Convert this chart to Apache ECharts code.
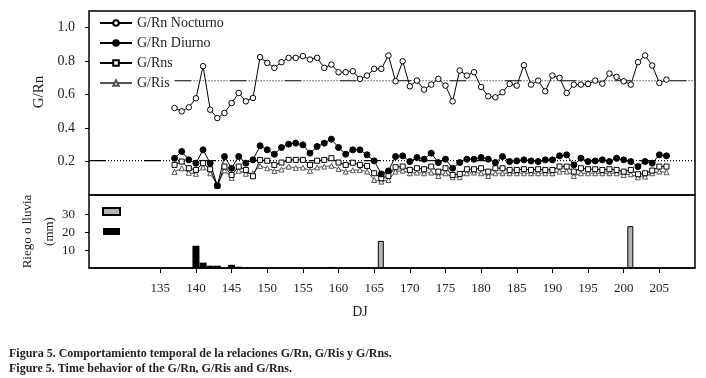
<!DOCTYPE html>
<html>
<head>
<meta charset="utf-8">
<script src="https://cdn.jsdelivr.net/npm/echarts@6/dist/echarts.min.js"></script>
<style>
  html, body { margin: 0; padding: 0; background: #fff; }
  #main { width: 706px; height: 378px; }
</style>
</head>
<body>
<div id="main"></div>
<script>
// dias julianos, primer dia con datos
var firstDay = 137;
var tickDays = [135, 140, 145, 150, 155, 160, 165, 170, 175, 180, 185, 190, 195, 200, 205];

var nocturno = [0.52, 0.50, 0.524, 0.578, 0.77, 0.51, 0.46, 0.49, 0.55, 0.61, 0.56, 0.58,
    0.824, 0.79, 0.76, 0.794, 0.82, 0.82, 0.83, 0.81, 0.82, 0.76, 0.78, 0.734, 0.734, 0.74, 0.694,
    0.714, 0.754, 0.754, 0.834, 0.68, 0.80, 0.65, 0.684, 0.63, 0.66, 0.694, 0.654, 0.56, 0.744, 0.714, 0.734, 0.646, 0.59, 0.584, 0.614,
    0.664, 0.654, 0.776, 0.66, 0.684, 0.62, 0.714, 0.70, 0.61, 0.66, 0.66, 0.664, 0.684, 0.666, 0.726, 0.706, 0.68, 0.66, 0.794, 0.834, 0.774, 0.67, 0.69];

var diurno = [0.22, 0.26, 0.21, 0.19, 0.27, 0.19, 0.056, 0.23, 0.16, 0.23, 0.19, 0.21,
    0.294, 0.27, 0.244, 0.284, 0.304, 0.31, 0.30, 0.25, 0.29, 0.31, 0.334, 0.284, 0.244, 0.27, 0.27,
    0.24, 0.204, 0.126, 0.144, 0.23, 0.234, 0.20, 0.224, 0.214, 0.25, 0.194, 0.214, 0.16, 0.194, 0.214, 0.214, 0.224, 0.214, 0.194, 0.23,
    0.20, 0.204, 0.21, 0.204, 0.20, 0.21, 0.21, 0.234, 0.24, 0.18, 0.22, 0.20, 0.204, 0.21, 0.20, 0.22, 0.21, 0.20, 0.17, 0.20, 0.19, 0.24, 0.234];

var rns = [0.18, 0.20, 0.16, 0.15, 0.19, 0.154, 0.055, 0.17, 0.12, 0.17, 0.15, 0.112,
    0.21, 0.205, 0.18, 0.194, 0.21, 0.21, 0.21, 0.18, 0.205, 0.21, 0.22, 0.194, 0.18, 0.193, 0.18,
    0.174, 0.13, 0.10, 0.114, 0.166, 0.17, 0.15, 0.16, 0.154, 0.17, 0.14, 0.16, 0.12, 0.126, 0.154, 0.154, 0.16, 0.14, 0.16, 0.16,
    0.15, 0.15, 0.154, 0.15, 0.154, 0.15, 0.15, 0.17, 0.17, 0.14, 0.16, 0.154, 0.154, 0.15, 0.154, 0.15, 0.14, 0.15, 0.124, 0.13, 0.146, 0.17, 0.17];

var ris = [0.138, 0.16, 0.133, 0.127, 0.165, 0.13, 0.058, 0.147, 0.103, 0.145, 0.127, 0.13,
    0.174, 0.16, 0.143, 0.152, 0.17, 0.162, 0.164, 0.145, 0.165, 0.17, 0.175, 0.155, 0.14, 0.148, 0.15,
    0.14, 0.09, 0.08, 0.09, 0.14, 0.146, 0.13, 0.134, 0.13, 0.134, 0.114, 0.13, 0.106, 0.106, 0.13, 0.134, 0.13, 0.114, 0.13, 0.13,
    0.13, 0.13, 0.13, 0.13, 0.13, 0.13, 0.13, 0.14, 0.14, 0.114, 0.13, 0.13, 0.13, 0.13, 0.13, 0.13, 0.12, 0.124, 0.106, 0.11, 0.13, 0.14, 0.136];

// lineas de referencia (promedios)
var refNocturno = { from: 137, value: 0.683 };
var refDiurno = { from: 125, value: 0.205 };

// riego y lluvia (mm)
var riegoDays = [166, 201];
var riegoMm = [15.2, 23.5];
var lluviaDays = [140, 141, 142, 143, 145, 146, 159];
var lluviaMm = [12.5, 3.0, 1.3, 1.3, 1.8, 0.7, 0.6];

var FONT = 'Liberation Serif';

function pairs(vals) {
    var res = [];
    for (var i = 0; i < vals.length; i++) {
        res.push([firstDay + i, vals[i]]);
    }
    return res;
}
function zip(xs, ys) {
    var res = [];
    for (var i = 0; i < xs.length; i++) res.push([xs[i], ys[i]]);
    return res;
}
// trazo: segmento continuo y luego puntos
function dashDot() {
    var d = [17];
    for (var i = 0; i < 12; i++) d.push(2, 1);
    d.push(2);
    return d;
}
function refLine(ref) {
    return {
        type: 'line',
        xAxisIndex: 0, yAxisIndex: 0,
        data: [[ref.from, ref.value], [210, ref.value]],
        symbol: 'none',
        silent: true,
        z: 1,
        lineStyle: { color: '#000', width: 1.2, type: dashDot() }
    };
}
function lineSeries(name, vals, symbol, size, fill, stroke) {
    return {
        name: name,
        type: 'line',
        xAxisIndex: 0, yAxisIndex: 0,
        data: pairs(vals),
        symbol: symbol,
        symbolSize: size,
        showAllSymbol: true,
        lineStyle: { color: stroke, width: 1 },
        itemStyle: { color: fill, borderColor: stroke, borderWidth: 1 },
        z: 3
    };
}

var myChart = echarts.init(document.getElementById('main'));

var option = {
    animation: false,
    textStyle: { fontFamily: FONT },
    title: {
        text: 'Figura 5. Comportamiento temporal de la relaciones G/Rn, G/Ris y G/Rns.\nFigure 5. Time behavior of the G/Rn, G/Ris and G/Rns.',
        left: 4,
        top: 341,
        textStyle: { fontFamily: FONT, fontSize: 12, fontWeight: 'bold', color: '#222', lineHeight: 15 }
    },
    legend: [{
        data: ['G/Rn Nocturno', 'G/Rn Diurno', 'G/Rns', 'G/Ris'],
        orient: 'vertical',
        left: 94,
        top: 10,
        itemWidth: 32,
        itemHeight: 7,
        itemGap: 4,
        textStyle: { fontFamily: FONT, fontSize: 14, color: '#222', lineHeight: 16 }
    }, {
        data: ['Riego', 'Lluvia'],
        orient: 'vertical',
        icon: 'rect',
        left: 97,
        top: 202,
        itemWidth: 17,
        itemHeight: 7,
        itemGap: 12,
        formatter: function () { return ''; }
    }],
    grid: [
        { left: 89, right: 11, top: 11, height: 184, show: true, borderColor: '#000', borderWidth: 1.5 },
        { left: 89, right: 11, top: 195, height: 73, show: true, borderColor: '#000', borderWidth: 1.5 }
    ],
    xAxis: [{
        type: 'value', gridIndex: 0, min: 125, max: 210,
        axisLine: { show: false }, axisTick: { show: false }, axisLabel: { show: false }, splitLine: { show: false }
    }, {
        type: 'value', gridIndex: 1, min: 125, max: 210, interval: 5,
        name: 'DJ',
        nameLocation: 'middle',
        nameGap: 37,
        nameTextStyle: { fontFamily: FONT, fontSize: 14, color: '#222', padding: [0, 64, 0, 0] },
        axisLine: { show: true, lineStyle: { color: '#000', width: 1.5 } },
        axisTick: { show: true, customValues: tickDays, length: 5, lineStyle: { color: '#000' } },
        axisLabel: { customValues: tickDays, margin: 14, fontFamily: FONT, fontSize: 13, color: '#222' },
        splitLine: { show: false }
    }],
    yAxis: [{
        type: 'value', gridIndex: 0, min: 0, max: 1.1,
        name: 'G/Rn',
        nameLocation: 'middle',
        nameGap: 42,
        nameMoveOverlap: false,
        nameRotate: 90,
        nameTextStyle: { fontFamily: FONT, fontSize: 15, color: '#222', padding: [0, 0, 0, 22] },
        axisLine: { show: false },
        axisTick: { show: true, customValues: [0.2, 0.4, 0.6, 0.8, 1.0], length: 4, lineStyle: { color: '#000' } },
        axisLabel: {
            customValues: [0.2, 0.4, 0.6, 0.8, 1.0], margin: 14,
            fontFamily: FONT, fontSize: 14, color: '#222',
            formatter: function (v) { return v.toFixed(1); }
        },
        splitLine: { show: false }
    }, {
        type: 'value', gridIndex: 1, min: 0, max: 41,
        name: 'Riego o lluvia\n(mm)',
        nameLocation: 'middle',
        nameGap: 28,
        nameMoveOverlap: false,
        nameRotate: 90,
        nameTextStyle: { fontFamily: FONT, fontSize: 13, color: '#222', lineHeight: 22 },
        axisLine: { show: false },
        axisTick: { show: true, customValues: [10, 20, 30], length: 4, lineStyle: { color: '#000' } },
        axisLabel: { customValues: [10, 20, 30], margin: 14, fontFamily: FONT, fontSize: 13, color: '#222' },
        splitLine: { show: false }
    }],
    series: [
        refLine(refNocturno),
        refLine(refDiurno),
        lineSeries('G/Ris', ris, 'triangle', 5, '#fff', '#555'),
        lineSeries('G/Rns', rns, 'rect', 5, '#fff', '#000'),
        lineSeries('G/Rn Diurno', diurno, 'circle', 6, '#000', '#000'),
        lineSeries('G/Rn Nocturno', nocturno, 'circle', 5.5, '#fff', '#000'),
        {
            name: 'Riego',
            type: 'bar',
            xAxisIndex: 1, yAxisIndex: 1,
            data: zip(riegoDays, riegoMm),
            barWidth: 6,
            barGap: '-100%',
            itemStyle: { color: '#b4b4b4', borderColor: '#000', borderWidth: 1 }
        },
        {
            name: 'Lluvia',
            type: 'bar',
            xAxisIndex: 1, yAxisIndex: 1,
            data: zip(lluviaDays, lluviaMm),
            barWidth: 7,
            barGap: '-100%',
            itemStyle: { color: '#000' }
        }
    ]
};

myChart.setOption(option);
</script>
</body>
</html>
